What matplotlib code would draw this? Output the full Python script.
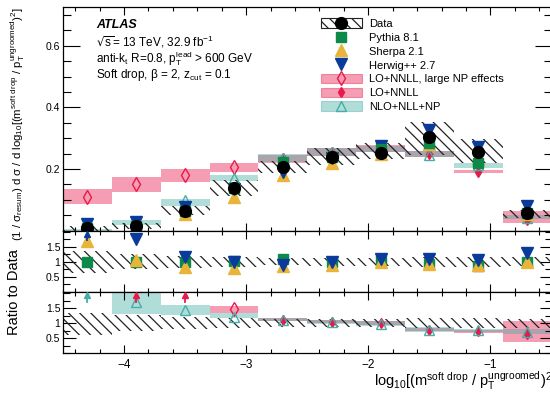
"""
Soft drop mass distribution (beta = 2) with MC and theory ratio panels.
"""

import numpy as np
import matplotlib.pyplot as plt
from matplotlib.patches import Patch
from matplotlib.lines import Line2D
from matplotlib.ticker import MultipleLocator, FixedLocator, FuncFormatter

plt.rcParams["font.family"] = ["Liberation Sans", "DejaVu Sans"]
plt.rcParams["mathtext.default"] = "regular"
plt.rcParams["hatch.linewidth"] = 0.9

# bins in log10[(m / pT)^2]
edges = [-4.5, -4.1, -3.7, -3.3, -2.9, -2.5, -2.1, -1.7, -1.3, -0.9, -0.5]
centers = [-4.3, -3.9, -3.5, -3.1, -2.7, -2.3, -1.9, -1.5, -1.1, -0.7]

# main panel
data = [0.008, 0.015, 0.063, 0.137, 0.207, 0.240, 0.253, 0.305, 0.254, 0.056]
data_lo = [0.0, 0.004, 0.050, 0.112, 0.187, 0.213, 0.232, 0.245, 0.219, 0.040]
data_hi = [0.016, 0.024, 0.078, 0.163, 0.225, 0.268, 0.285, 0.354, 0.297, 0.067]
pythia = [0.008, 0.016, 0.063, 0.139, 0.222, 0.240, 0.265, 0.285, 0.220, 0.056]
sherpa = [0.014, 0.016, 0.052, 0.110, 0.180, 0.220, 0.250, 0.280, 0.232, 0.055]
herwig = [0.020, 0.029, 0.075, 0.135, 0.190, 0.237, 0.275, 0.328, 0.272, 0.078]

# LO+NNLL, large NP effects: first four bins
largenp = [0.110, 0.150, 0.180, 0.207]
largenp_lo = [0.086, 0.124, 0.157, 0.191]
largenp_hi = [0.135, 0.173, 0.200, 0.218]
# LO+NNLL: last six bins
nnll = [0.235, 0.255, 0.262, 0.250, 0.190, 0.035]
nnll_lo = [0.220, 0.243, 0.255, 0.240, 0.186, 0.024]
nnll_hi = [0.246, 0.268, 0.278, 0.257, 0.197, 0.062]
# NLO+NLL+NP: all bins
nlo = [0.002, 0.026, 0.100, 0.170, 0.235, 0.255, 0.262, 0.245, 0.212, 0.042]
nlo_lo = [0.0, 0.018, 0.080, 0.162, 0.222, 0.243, 0.255, 0.240, 0.202, 0.036]
nlo_hi = [0.005, 0.034, 0.102, 0.180, 0.248, 0.268, 0.276, 0.257, 0.219, 0.050]

# ratio panels (np.inf = off scale, drawn as an arrow)
inf = np.inf
ratio_lo = [0.62, 0.75, 0.80, 0.83, 0.88, 0.86, 0.86, 0.83, 0.83, 0.85]
ratio_hi = [1.35, 1.27, 1.20, 1.17, 1.14, 1.14, 1.14, 1.17, 1.17, 1.15]
pythia_r = [1.00, 1.00, 1.00, 1.02, 1.08, 1.00, 1.05, 0.93, 0.85, 1.00]
sherpa_r = [1.70, 1.05, 0.83, 0.80, 0.86, 0.91, 0.98, 0.92, 0.91, 0.98]
herwig_r = [inf, 1.76, 1.17, 0.98, 0.90, 0.98, 1.11, 1.08, 1.06, 1.28]

largenp_r = [np.nan, inf, inf, 1.49]
largenp_r_lo = [np.nan, np.nan, np.nan, 1.35]
largenp_r_hi = [np.nan, np.nan, np.nan, 1.57]
nnll_r = [1.10, 1.05, 1.00, 0.79, 0.73, 0.65]
nnll_r_lo = [1.06, 1.00, 0.95, 0.74, 0.68, 0.38]
nnll_r_hi = [1.17, 1.12, 1.07, 0.84, 0.78, 1.08]
nlo_r = [inf, 1.70, 1.44, 1.22, 1.12, 1.03, 0.97, 0.76, 0.76, 0.70]
nlo_r_lo = [np.nan, 1.30, 1.27, 1.16, 1.06, 0.98, 0.92, 0.72, 0.72, 0.65]
nlo_r_hi = [np.nan, 2.10, 1.62, 1.35, 1.17, 1.12, 1.06, 0.86, 0.82, 0.81]

PINK = "#e8194b"
TEAL = "#45aea6"
GREEN = "#0b8a4a"
YELLOW = "#e9b43a"
BLUE = "#0a3b9a"
WIDTH = 0.4

W, H = 550, 395
fig = plt.figure(figsize=(W / 100, H / 100), dpi=100)


def box(x0, y0, x1, y1):
    return [x0 / W, 1 - y1 / H, (x1 - x0) / W, (y1 - y0) / H]


ax = fig.add_axes(box(63, 7.3, 551.5, 230.5))
ax1 = fig.add_axes(box(63, 230.5, 551.5, 291.7), sharex=ax)
ax2 = fig.add_axes(box(63, 291.7, 551.5, 353.3), sharex=ax)


def bands(a, x, lo, hi, color, alpha=0.42, z=1):
    lo, hi = np.asarray(lo, float), np.asarray(hi, float)
    a.bar(x, hi - lo, bottom=lo, width=WIDTH, color=color, alpha=alpha,
          linewidth=0, zorder=z)


def hatch(a, x, lo, hi):
    lo, hi = np.asarray(lo, float), np.asarray(hi, float)
    a.bar(x, hi - lo, bottom=lo, width=WIDTH, facecolor="none",
          edgecolor="#222222", hatch="\\\\\\", linewidth=0, zorder=2)


def ratio_points(a, x, vals, color, **kw):
    vals = np.asarray(vals, float)
    fin = np.isfinite(vals)
    a.plot(np.asarray(x)[fin], vals[fin], ls="none", color=color, **kw)
    for xi in np.asarray(x)[np.isinf(vals)]:
        a.plot([xi, xi], [1.72, 1.92], color=color, lw=1.3, zorder=6)
        a.plot(xi, 1.93, marker="^", ms=4.5, color=color, ls="none", zorder=6)


# ---- main panel
bands(ax, centers[:4], largenp_lo, largenp_hi, PINK)
bands(ax, centers[4:], nnll_lo, nnll_hi, PINK)
bands(ax, centers, nlo_lo, nlo_hi, TEAL)
hatch(ax, centers, data_lo, data_hi)
ax.plot(centers[:4], largenp, ls="none", marker="d", ms=7, mfc="none",
        mec=PINK, mew=1.0, zorder=4)
ax.plot(centers[4:], nnll, ls="none", marker="d", ms=5.5, color=PINK, zorder=4)
ax.plot(centers, nlo, ls="none", marker="^", ms=7.5, mfc="none", mec=TEAL,
        mew=1.0, zorder=4)
ax.plot(centers, sherpa, ls="none", marker="^", ms=8, color=YELLOW, zorder=5)
ax.plot(centers, herwig, ls="none", marker="v", ms=8, color=BLUE, zorder=5)
ax.plot(centers, pythia, ls="none", marker="s", ms=7, color=GREEN, zorder=5)
ax.plot(centers, data, ls="none", marker="o", ms=8.5, color="black", zorder=7)

ax.set_xlim(-4.5, -0.5)
ax.set_ylim(0, 0.725)
ax.yaxis.set_major_locator(FixedLocator([0.2, 0.4, 0.6]))
ax.yaxis.set_minor_locator(MultipleLocator(0.05))

# ---- MC / data
hatch(ax1, centers, ratio_lo, ratio_hi)
ratio_points(ax1, centers, sherpa_r, YELLOW, marker="^", ms=8, zorder=5)
ratio_points(ax1, centers, pythia_r, GREEN, marker="s", ms=7, zorder=4)
ratio_points(ax1, centers, herwig_r, BLUE, marker="v", ms=8, zorder=6)

# ---- theory / data
bands(ax2, centers[:4], largenp_r_lo, largenp_r_hi, PINK)
bands(ax2, centers[4:], nnll_r_lo, nnll_r_hi, PINK)
bands(ax2, centers, nlo_r_lo, nlo_r_hi, TEAL)
hatch(ax2, centers, ratio_lo, ratio_hi)
ratio_points(ax2, centers[:4], largenp_r, PINK, marker="d", ms=7, mfc="none",
             mew=1.0, zorder=4)
ratio_points(ax2, centers[4:], nnll_r, PINK, marker="d", ms=5.5, zorder=4)
ratio_points(ax2, centers, nlo_r, TEAL, marker="^", ms=7.5, mfc="none",
             mew=1.0, zorder=5)

fmt = FuncFormatter(lambda v, p: f"{v:g}")
for a in (ax1, ax2):
    a.set_ylim(0, 2.05)
    a.yaxis.set_major_locator(FixedLocator([0.5, 1.0, 1.5]))
    a.yaxis.set_minor_locator(MultipleLocator(0.25))
    a.yaxis.set_major_formatter(fmt)

for a in (ax, ax1, ax2):
    a.xaxis.set_major_locator(MultipleLocator(1))
    a.xaxis.set_minor_locator(MultipleLocator(0.2))
    a.tick_params(which="both", direction="in", top=True, right=True,
                  labelsize=7.5, pad=2, width=0.8)
    a.tick_params(axis="x", which="major", length=6)
    a.tick_params(axis="x", which="minor", length=3)
    for s in a.spines.values():
        s.set_linewidth(0.9)
ax.tick_params(axis="y", which="major", length=12)
ax.tick_params(axis="y", which="minor", length=6)
for a in (ax1, ax2):
    a.tick_params(axis="y", which="major", length=9)
    a.tick_params(axis="y", which="minor", length=5)
ax.tick_params(axis="x", labelbottom=False)
ax1.tick_params(axis="x", labelbottom=False)
ax2.tick_params(axis="x", labelsize=8.5, pad=4)

# ---- legend
h_data = (Patch(facecolor="none", edgecolor="#222222", hatch="\\\\\\", lw=0.8),
          Line2D([], [], ls="none", marker="o", ms=8.5, color="black"))
h_py = Line2D([], [], ls="none", marker="s", ms=7, color=GREEN)
h_sh = Line2D([], [], ls="none", marker="^", ms=8, color=YELLOW)
h_hw = Line2D([], [], ls="none", marker="v", ms=8, color=BLUE)
h_lnp = (Patch(facecolor=PINK, alpha=0.42, edgecolor=PINK, lw=0.8),
         Line2D([], [], ls="none", marker="d", ms=7, mfc="none", mec=PINK))
h_nnll = (Patch(facecolor=PINK, alpha=0.42, edgecolor=PINK, lw=0.8),
          Line2D([], [], ls="none", marker="d", ms=5.5, color=PINK))
h_nlo = (Patch(facecolor=TEAL, alpha=0.42, edgecolor=TEAL, lw=0.8),
         Line2D([], [], ls="none", marker="^", ms=7.5, mfc="none", mec=TEAL))
ax.legend([h_data, h_py, h_sh, h_hw, h_lnp, h_nnll, h_nlo],
          ["Data", "Pythia 8.1", "Sherpa 2.1", "Herwig++ 2.7",
           "LO+NNLL, large NP effects", "LO+NNLL", "NLO+NLL+NP"],
          loc="upper left", bbox_to_anchor=(0.528, 0.95), frameon=False,
          fontsize=8, handlelength=3.7, handleheight=0.95, handletextpad=0.6,
          labelspacing=0.29, borderpad=0, borderaxespad=0)

# ---- labels
fig.text(96 / W, 1 - 28 / H, "ATLAS", fontsize=9, weight="bold",
         style="italic", va="baseline")
fig.text(96 / W, 1 - 46 / H, r"$\sqrt{s}$= 13 TeV, 32.9 fb$^{-1}$",
         fontsize=8.5, va="baseline")
fig.text(96 / W, 1 - 62 / H,
         r"anti-k$_{t}$ R=0.8, p$_{T}^{lead}$ > 600 GeV",
         fontsize=8.5, va="baseline")
fig.text(96 / W, 1 - 78 / H, r"Soft drop, $\beta$ = 2, z$_{cut}$ = 0.1",
         fontsize=8.5, va="baseline")

fig.text(18 / W, 1 - 124 / H,
         r"(1 / $\sigma_{resum}$) d $\sigma$ / d log$_{10}$[(m$^{soft\ drop}$"
         r" / p$_{T}^{ungroomed}$)$^{2}$]",
         rotation=90, fontsize=8.2, ha="center", va="center")
fig.text(14 / W, 1 - 292 / H, "Ratio to Data", rotation=90, fontsize=10.5,
         ha="center", va="center")
fig.text(556 / W, 1 - 387 / H,
         r"log$_{10}$[(m$^{soft\ drop}$ / p$_{T}^{ungroomed}$)$^{2}$]",
         fontsize=10.5, ha="right", va="baseline")

fig.savefig("out.png", dpi=100)
